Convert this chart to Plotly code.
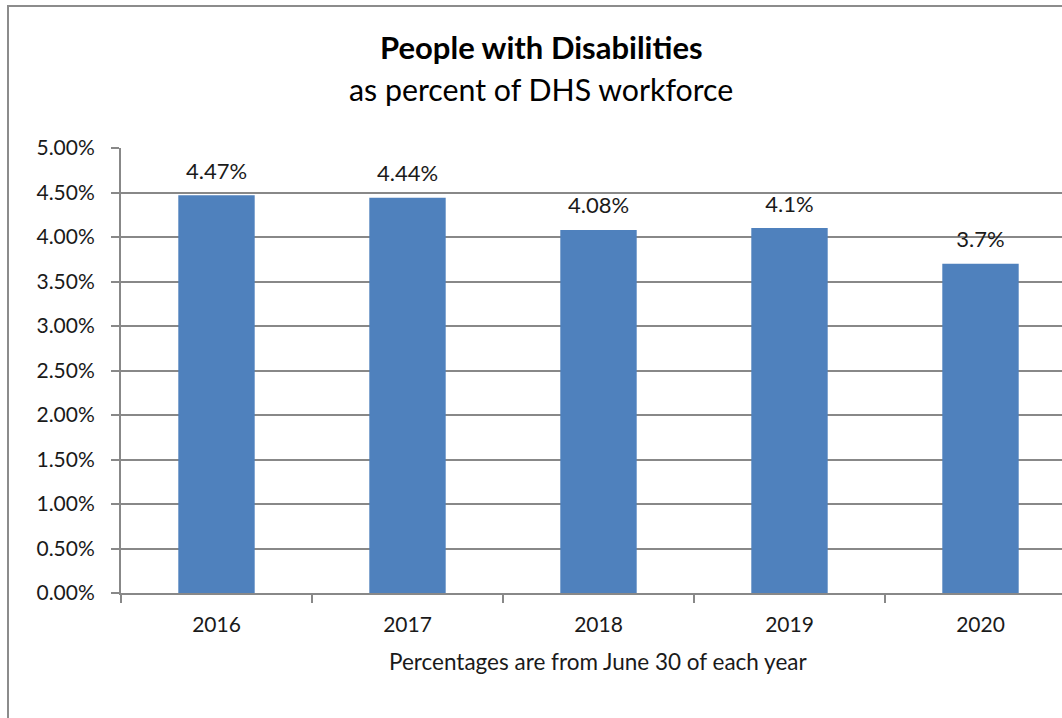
import plotly.graph_objects as go

years = ["2016", "2017", "2018", "2019", "2020"]
values = [4.47, 4.44, 4.08, 4.1, 3.7]
labels = ["4.47%", "4.44%", "4.08%", "4.1%", "3.7%"]
yticks = [0, 0.5, 1, 1.5, 2, 2.5, 3, 3.5, 4, 4.5, 5]
yticklabels = ["0.00%", "0.50%", "1.00%", "1.50%", "2.00%", "2.50%",
               "3.00%", "3.50%", "4.00%", "4.50%", "5.00%"]

FONT = "Lato"
W, H = 1062, 718
L, R, T, B = 121, 0, 148, 125
pw, ph = W - L - R, H - T - B

fig = go.Figure()
fig.add_trace(go.Bar(
    x=years, y=values, width=0.4,
    marker=dict(color="#4F81BD", line=dict(width=0)),
    hoverinfo="skip",
))
fig.add_trace(go.Scatter(
    x=years, y=values, mode="markers+text", text=labels,
    textposition="top center",
    marker=dict(size=16, color="rgba(0,0,0,0)"),
    textfont=dict(family=FONT, size=22, color="#1a1a1a"),
    hoverinfo="skip",
))

fig.add_annotation(xref="paper", yref="paper", x=(541 - L) / pw, y=(593 - 47) / ph,
                   text="<b>People with Disabilities</b>", showarrow=False,
                   xanchor="center", yanchor="middle",
                   font=dict(family=FONT, size=31, color="#000000"))
fig.add_annotation(xref="paper", yref="paper", x=(541 - L) / pw, y=(593 - 89) / ph,
                   text="as percent of DHS workforce", showarrow=False,
                   xanchor="center", yanchor="middle",
                   font=dict(family=FONT, size=30.3, color="#000000"))
fig.add_annotation(xref="paper", yref="paper", x=(598 - L) / pw, y=(593 - 661) / ph,
                   text="Percentages are from June 30 of each year", showarrow=False,
                   xanchor="center", yanchor="middle",
                   font=dict(family=FONT, size=22.5, color="#1a1a1a"))

# outer frame
fig.add_shape(type="rect", xref="paper", yref="paper",
              x0=(8 - L) / pw, x1=1.2, y0=-0.5, y1=(593 - 6) / ph,
              line=dict(color="#8C8C8C", width=2), layer="below")

fig.update_layout(
    width=W, height=H,
    margin=dict(l=L, r=R, t=T, b=B),
    paper_bgcolor="white", plot_bgcolor="white",
    showlegend=False,
    bargap=0.6,
    xaxis=dict(
        type="category", range=[-0.5, -0.5 + pw / 191.0],
        tickson="boundaries", ticks="outside", ticklen=8, tickwidth=2,
        tickcolor="#888888", showline=True, linecolor="#888888", linewidth=2,
        showgrid=False, ticklabelstandoff=12,
        tickfont=dict(family=FONT, size=21, color="#1a1a1a"),
    ),
    yaxis=dict(
        range=[0, 5], tickvals=yticks, ticktext=yticklabels,
        ticks="outside", ticklen=8, tickwidth=2, tickcolor="#888888",
        showline=True, linecolor="#888888", linewidth=2,
        showgrid=True, gridcolor="#888888", gridwidth=2,
        zeroline=False, ticklabelstandoff=12,
        tickfont=dict(family=FONT, size=21, color="#1a1a1a"),
    ),
)

fig.write_html("out.html", config={"displayModeBar": False},
               post_script="document.body.style.margin='0';")
